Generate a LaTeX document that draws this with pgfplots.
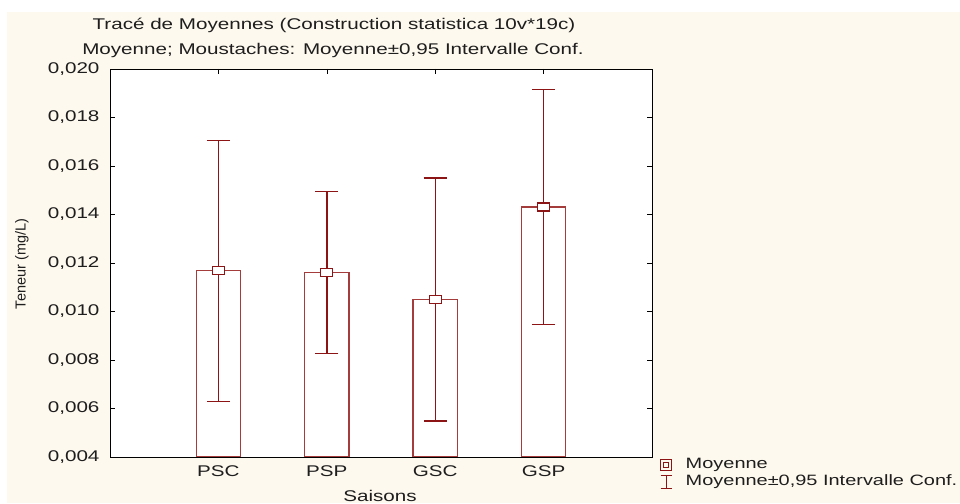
\documentclass[border=0pt]{standalone}
\usepackage{fontspec}
\setmainfont{Liberation Sans}[FakeStretch=1.33]
\newfontfamily\plainfont{Liberation Sans}
\usepackage{pgfplots}
\pgfplotsset{compat=1.18}
\definecolor{cream}{RGB}{254,249,238}
\definecolor{dred}{RGB}{140,20,20}
\definecolor{bred}{RGB}{165,60,60}
\definecolor{txt}{RGB}{30,30,30}
\newcommand{\fs}{\fontsize{15.5}{18}\selectfont}
\begin{document}
\begin{tikzpicture}[x=1pt,y=1pt]
\path[use as bounding box] (0,0) rectangle (960,503);
\fill[white] (0,0) rectangle (960,503);
\fill[cream] (7,0) rectangle (960,491);
\begin{axis}[
  at={(110pt,46pt)}, anchor=south west,
  scale only axis, width=542pt, height=388pt,
  xmin=0, xmax=5, ymin=0.004, ymax=0.020,
  axis background/.style={fill=white},
  xtick={1,2,3,4}, xticklabels={PSC,PSP,GSC,GSP},
  ytick={0.004,0.006,0.008,0.010,0.012,0.014,0.016,0.018,0.020},
  yticklabels={{0,004},{0,006},{0,008},{0,010},{0,012},{0,014},{0,016},{0,018},{0,020}},
  scaled y ticks=false,
  tick align=inside, major tick length=5pt,
  tick style={black, line width=0.6pt},
  axis line style={black, line width=0.8pt},
  ticklabel style={font=\fs, text=txt},
  yticklabel style={xshift=-7pt},
  xticklabel style={yshift=-5pt},
  legend cell align=left,
  legend style={at={(axis description cs:1.0148,0)}, anchor=north west, draw=none, fill=none,
    inner sep=0pt, outer sep=0pt, row sep=2.5pt, column sep=0pt,
    font=\fontsize{15}{18}\selectfont, text=txt,
    nodes={inner sep=0pt, text height=11pt, text depth=4pt}},
]
\addplot[forget plot, ybar, bar width=0.41, bar shift=0pt, draw=bred, line width=1.2pt, fill=white]
  coordinates {(1,0.01168) (2,0.01162) (3,0.01049) (4,0.01431)};
\addplot[forget plot, only marks, mark=none,
  error bars/.cd, y dir=both, y explicit,
  error bar style={draw=dred, line width=1.4pt},
  error mark options={rotate=90, draw=dred, mark size=11.5pt, line width=1.4pt}]
  coordinates {(1,0.01168) +- (0,0.00538) (2,0.01162) +- (0,0.00334) (3,0.01049) +- (0,0.00501) (4,0.01431) +- (0,0.00485)};
\addplot[forget plot, only marks, mark=square*, mark size=4pt,
  mark options={xscale=1.5, fill=white, draw=dred, line width=1.2pt}]
  coordinates {(1,0.01168) (2,0.01162) (3,0.01049) (4,0.01431)};
\addlegendimage{legend image code/.code={
  \draw[dred, line width=1pt] (0pt,-5.5pt) rectangle (11pt,5.5pt);
  \draw[dred, line width=1pt] (3pt,-2.5pt) rectangle (8pt,2.5pt);
  \path (25pt,0pt);}}
\addlegendentry{Moyenne}
\addlegendimage{legend image code/.code={
  \draw[dred, line width=1pt] (0pt,6.5pt) -- (11pt,6.5pt) (5.5pt,6.5pt) -- (5.5pt,-6.5pt) (0pt,-6.5pt) -- (11pt,-6.5pt);
  \path (25pt,0pt);}}
\addlegendentry{Moyenne±0,95 Intervalle Conf.}
\end{axis}
\node[font=\fs, text=txt] at (334,478) {Tracé de Moyennes (Construction statistica 10v*19c)};
\node[font=\fs, text=txt] at (333,453) {Moyenne; Moustaches: Moyenne±0,95 Intervalle Conf.};
\node[font=\fs, text=txt, anchor=base] at (380,2) {Saisons};
\node[font=\plainfont\fontsize{14.5}{17}\selectfont, text=txt, rotate=90] at (22,239) {Teneur (mg/L)};
\end{tikzpicture}
\end{document}
